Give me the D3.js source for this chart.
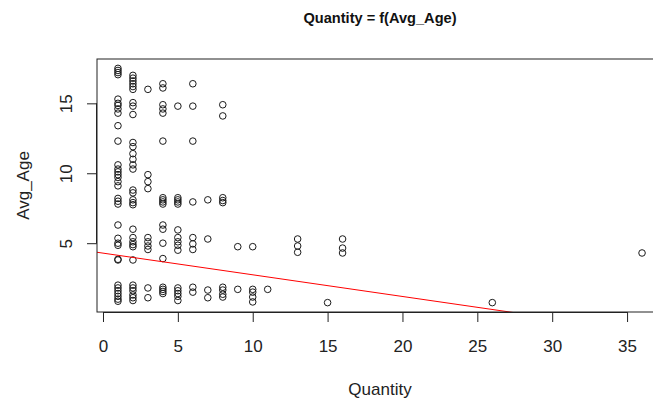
<!DOCTYPE html>
<html>
<head>
<meta charset="utf-8">
<script src="https://cdn.jsdelivr.net/npm/d3@7/dist/d3.min.js"></script>
<style>
  body { margin: 0; background: #fff; }
  svg { display: block; font-family: "Liberation Sans", Arial, sans-serif; }
</style>
</head>
<body>
<div id="chart"></div>
<script>
// Quantity values (x) and the Avg_Age readings observed at each of them (y)
const quantityLevels = [1, 2, 3, 4, 5, 6, 7, 8, 9, 10, 11, 13, 15, 16, 26, 36];
const avgAgeByQuantity = [
  [17.5, 17.35, 17.2, 17.05, 15.3, 15.0, 14.85, 14.6, 14.3, 13.4, 12.3, 10.6, 10.3, 10.1, 9.9, 9.7, 9.4, 9.1,
   8.2, 8.0, 7.8, 6.3, 5.35, 5.0, 4.85, 3.85, 3.8, 2.0, 1.8, 1.6, 1.4, 1.2, 1.0, 0.85],
  [17.0, 16.8, 16.6, 16.4, 16.2, 16.0, 15.05, 14.8, 14.2, 12.2, 11.9, 11.4, 11.0, 10.6, 10.3, 8.8, 8.6,
   8.1, 7.9, 7.75, 6.0, 5.4, 5.1, 4.9, 4.75, 3.8, 2.0, 1.8, 1.6, 1.3, 1.1, 0.9],
  [16.0, 9.9, 9.4, 8.9, 5.4, 5.1, 4.8, 4.55, 1.8, 1.1],
  [16.4, 16.1, 14.9, 14.6, 14.3, 12.3, 8.25, 8.1, 7.95, 7.8, 6.3, 6.0, 5.0, 3.9, 1.85, 1.7, 1.55, 1.4],
  [14.8, 8.25, 8.1, 7.95, 7.8, 5.95, 5.4, 5.1, 4.85, 4.5, 1.8, 1.6, 1.4, 1.2, 0.9],
  [16.4, 14.8, 12.3, 7.95, 5.4, 4.95, 4.55, 1.85, 1.5],
  [8.1, 5.3, 1.65, 1.1],
  [14.9, 14.1, 8.25, 8.05, 7.9, 1.85, 1.65, 1.35, 1.15],
  [4.75, 1.7],
  [4.75, 1.7, 1.5, 1.15, 0.8],
  [1.7],
  [5.3, 4.8, 4.35],
  [0.75],
  [5.3, 4.65, 4.3],
  [0.75],
  [4.3]
];
const xTicks = [0, 5, 10, 15, 20, 25, 30, 35];
const yTicks = [5, 10, 15];
// fitted line drawn over the scatter
const fitIntercept = 4.29;
const fitSlope = -0.155;

const points = quantityLevels.flatMap((q, i) => avgAgeByQuantity[i].map(a => ({ q, a })));

const width = 653, height = 401;
const plot = { left: 97, right: 663, top: 59, bottom: 312 };
const font = 17;

// R-style 4% padding around the data range
function padded(ext) {
  const p = (ext[1] - ext[0]) * 0.04;
  return [ext[0] - p, ext[1] + p];
}

const x = d3.scaleLinear()
  .domain(padded(d3.extent(points, d => d.q)))
  .range([plot.left, plot.right]);
const y = d3.scaleLinear()
  .domain(padded(d3.extent(points, d => d.a)))
  .range([plot.bottom, plot.top]);

const svg = d3.select('#chart').append('svg')
  .attr('width', width)
  .attr('height', height);

svg.append('defs').append('clipPath')
  .attr('id', 'plot-clip')
  .append('rect')
  .attr('x', plot.left)
  .attr('y', plot.top)
  .attr('width', plot.right - plot.left)
  .attr('height', plot.bottom - plot.top);

// points (pch = 1)
svg.append('g')
  .selectAll('circle')
  .data(points)
  .join('circle')
  .attr('cx', d => x(d.q))
  .attr('cy', d => y(d.a))
  .attr('r', 3.3)
  .attr('fill', 'none')
  .attr('stroke', '#1a1a1a')
  .attr('stroke-width', 1);

// regression line, clipped to the plot region
const [x0, x1] = x.domain();
svg.append('line')
  .attr('clip-path', 'url(#plot-clip)')
  .attr('x1', x(x0))
  .attr('y1', y(fitIntercept + fitSlope * x0))
  .attr('x2', x(x1))
  .attr('y2', y(fitIntercept + fitSlope * x1))
  .attr('stroke', '#ff0000')
  .attr('stroke-width', 1);

// box
svg.append('rect')
  .attr('x', plot.left)
  .attr('y', plot.top)
  .attr('width', plot.right - plot.left)
  .attr('height', plot.bottom - plot.top)
  .attr('fill', 'none')
  .attr('stroke', '#222')
  .attr('stroke-width', 1);

// axes
const xAxis = svg.append('g')
  .attr('transform', `translate(0,${plot.bottom})`)
  .call(d3.axisBottom(x).tickValues(xTicks).tickFormat(d3.format('d')).tickSize(10).tickSizeOuter(0).tickPadding(27));
xAxis.select('.domain')
  .attr('d', `M${x(xTicks[0])},0.5H${x(xTicks[xTicks.length - 1])}`);

const yAxis = svg.append('g')
  .attr('transform', `translate(${plot.left},0)`)
  .call(d3.axisLeft(y).tickValues(yTicks).tickFormat(d3.format('d')).tickSize(10).tickSizeOuter(0));
yAxis.select('.domain')
  .attr('d', `M-0.5,${y(yTicks[0])}V${y(yTicks[yTicks.length - 1])}`);

[xAxis, yAxis].forEach(g => {
  g.selectAll('path, line').attr('stroke', '#222');
  g.selectAll('text').attr('font-size', font).attr('font-family', null).attr('fill', '#222');
});
xAxis.selectAll('text').attr('dy', null).attr('y', 40);

// vertical y tick labels, R style
yAxis.selectAll('.tick text')
  .attr('x', null)
  .attr('dy', null)
  .attr('text-anchor', 'middle')
  .attr('transform', 'translate(-25,0) rotate(-90)')
  .attr('y', 0);

// titles
const midX = (plot.left + plot.right) / 2;
svg.append('text')
  .attr('x', midX)
  .attr('y', 23)
  .attr('text-anchor', 'middle')
  .attr('font-size', 14.6)
  .attr('font-weight', 'bold')
  .attr('fill', '#111')
  .text('Quantity = f(Avg_Age)');

svg.append('text')
  .attr('x', midX)
  .attr('y', 395)
  .attr('text-anchor', 'middle')
  .attr('font-size', font)
  .attr('fill', '#222')
  .text('Quantity');

svg.append('text')
  .attr('transform', `translate(29,${(plot.top + plot.bottom) / 2}) rotate(-90)`)
  .attr('text-anchor', 'middle')
  .attr('font-size', font)
  .attr('fill', '#222')
  .text('Avg_Age');
</script>
</body>
</html>
